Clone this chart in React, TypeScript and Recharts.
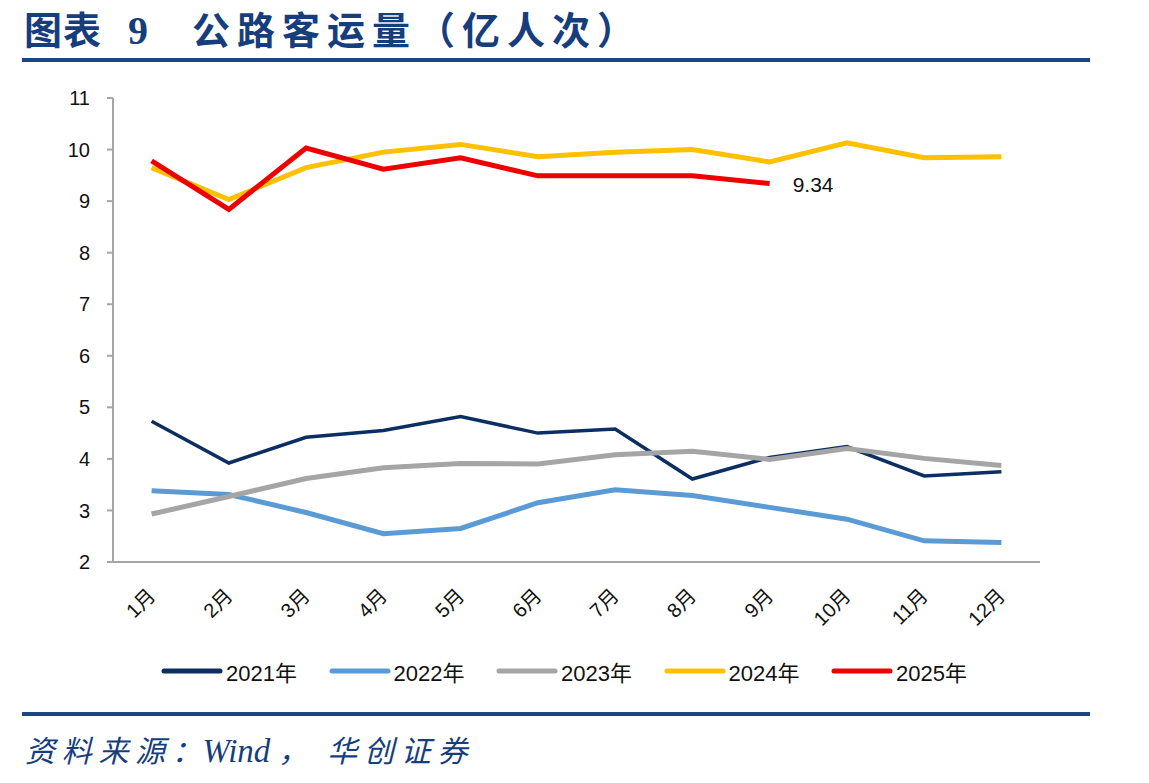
import React from 'react';
import { LineChart, Line, XAxis, YAxis, LabelList } from 'recharts';

// Monthly highway passenger volume, 100 million trips
const months = ['1月', '2月', '3月', '4月', '5月', '6月', '7月', '8月', '9月', '10月', '11月', '12月'];
const y2021 = [4.73, 3.92, 4.42, 4.55, 4.82, 4.5, 4.58, 3.61, 4.03, 4.24, 3.67, 3.75];
const y2022 = [3.38, 3.31, 2.96, 2.55, 2.65, 3.15, 3.4, 3.29, 3.06, 2.83, 2.41, 2.38];
const y2023 = [2.93, 3.27, 3.62, 3.83, 3.91, 3.9, 4.08, 4.15, 3.99, 4.2, 4.01, 3.87];
const y2024 = [9.65, 9.03, 9.65, 9.95, 10.1, 9.86, 9.95, 10.0, 9.76, 10.13, 9.84, 9.86];
const y2025: (number | null)[] = [9.78, 8.84, 10.03, 9.62, 9.84, 9.49, 9.49, 9.49, 9.34, null, null, null];
const yTicks = [2, 3, 4, 5, 6, 7, 8, 9, 10, 11];

const seriesDefs = [
  { key: 'y2021', name: '2021年', color: '#0B2F62', width: 3.5, values: y2021 },
  { key: 'y2022', name: '2022年', color: '#5B9BD5', width: 5, values: y2022 },
  { key: 'y2023', name: '2023年', color: '#A5A5A5', width: 5, values: y2023 },
  { key: 'y2024', name: '2024年', color: '#FFC000', width: 5, values: y2024 },
  { key: 'y2025', name: '2025年', color: '#EE0000', width: 5, values: y2025 },
];

const rows = months.map((m, i) => {
  const row: Record<string, string | number | null> = { month: m };
  seriesDefs.forEach((s) => {
    row[s.key] = s.values[i];
  });
  return row;
});

const lastIdx2025 = y2025.reduce((acc: number, v, i) => (v != null ? i : acc), 0);

const BLUE = '#1B4686';
const TEXT_BLUE = '#173E7C';
const FONT = "'Liberation Sans', Arial, 'Noto Sans CJK SC', sans-serif";
const CJK = "'Noto Sans CJK SC', sans-serif";

const MonthTick = (props: any) => {
  const { x, y, payload } = props;
  return (
    <g transform={`translate(${x + 5},${y + 27})`}>
      <text
        transform="rotate(-45)"
        textAnchor="end"
        fontSize={20}
        fontFamily={FONT}
        fill="#111"
      >
        {payload.value}
      </text>
    </g>
  );
};

const EndLabel = (props: any) => {
  const { x, y, value, index } = props;
  if (index !== lastIdx2025 || value == null) return null;
  return (
    <text x={x + 23} y={y + 8} fontSize={21} fontFamily={FONT} fill="#111">
      {value.toFixed(2)}
    </text>
  );
};

export default function App() {
  return (
    <div
      style={{
        position: 'absolute',
        left: 0,
        top: 0,
        width: 1149,
        height: 783,
        background: '#fff',
        overflow: 'hidden',
      }}
    >
      {/* title */}
      <div
        style={{
          position: 'absolute',
          left: 24,
          top: 3,
          fontFamily: CJK,
          fontWeight: 700,
          fontSize: 38,
          color: TEXT_BLUE,
          whiteSpace: 'nowrap',
          lineHeight: '50px',
        }}
      >
        <span style={{ letterSpacing: 1 }}>图表</span>
        <span style={{ marginLeft: 26, fontFamily: "'Liberation Serif', serif", fontSize: 40 }}>9</span>
        <span style={{ marginLeft: 44, letterSpacing: 7 }}>公路客运量（亿人次）</span>
      </div>
      <div style={{ position: 'absolute', left: 22, top: 58, width: 1068, height: 4, background: BLUE }} />

      <div style={{ position: 'absolute', left: 0, top: 0 }}>
        <LineChart
          width={1149}
          height={783}
          data={rows}
          margin={{ top: 98, right: 109, left: 53, bottom: 161 }}
        >
          <XAxis
            dataKey="month"
            height={60}
            padding={{ left: 38.6, right: 38.6 }}
            axisLine={{ stroke: '#A6A6A6', strokeWidth: 2 }}
            tickLine={false}
            tick={<MonthTick />}
            interval={0}
          />
          <YAxis
            width={60}
            domain={[2, 11]}
            ticks={yTicks}
            interval={0}
            axisLine={{ stroke: '#A6A6A6', strokeWidth: 2 }}
            tickLine={{ stroke: '#A6A6A6', strokeWidth: 2 }}
            tickSize={6}
            tickMargin={17}
            tick={{ fontSize: 20, fontFamily: FONT, fill: '#111' }}
          />
          {seriesDefs.map((s) => (
            <Line
              key={s.key}
              type="linear"
              dataKey={s.key}
              name={s.name}
              stroke={s.color}
              strokeWidth={s.width}
              dot={false}
              activeDot={false}
              isAnimationActive={false}
              connectNulls={false}
            >
              {s.key === 'y2025' && <LabelList dataKey="y2025" content={<EndLabel />} />}
            </Line>
          ))}
        </LineChart>
      </div>

      {/* legend */}
      <div
        style={{
          position: 'absolute',
          left: 161,
          top: 656,
          display: 'flex',
          alignItems: 'center',
          height: 30,
        }}
      >
        {seriesDefs.map((s) => (
          <div key={s.key} style={{ display: 'flex', alignItems: 'center', width: 167.5 }}>
            <svg width={62} height={10} style={{ display: 'block' }}>
              <line x1={3} y1={5} x2={59} y2={5} stroke={s.color} strokeWidth={5} strokeLinecap="round" />
            </svg>
            <span
              style={{
                marginLeft: 3,
                fontFamily: FONT,
                fontSize: 22,
                color: '#111',
                whiteSpace: 'nowrap',
              }}
            >
              {s.name}
            </span>
          </div>
        ))}
      </div>

      <div style={{ position: 'absolute', left: 22, top: 712, width: 1068, height: 4, background: BLUE }} />

      {/* source note */}
      <div
        style={{
          position: 'absolute',
          left: 25,
          top: 729,
          fontFamily: CJK,
          fontStyle: 'italic',
          fontSize: 30,
          color: TEXT_BLUE,
          whiteSpace: 'nowrap',
          lineHeight: '40px',
        }}
      >
        <span style={{ letterSpacing: 6.7 }}>资料来源：</span>
        <span style={{ marginLeft: -6, fontFamily: "'Liberation Serif', serif", fontSize: 33 }}>Wind</span>
        <span style={{ marginLeft: 8 }}>，</span>
        <span style={{ marginLeft: 19, letterSpacing: 6.7 }}>华创证券</span>
      </div>
    </div>
  );
}
